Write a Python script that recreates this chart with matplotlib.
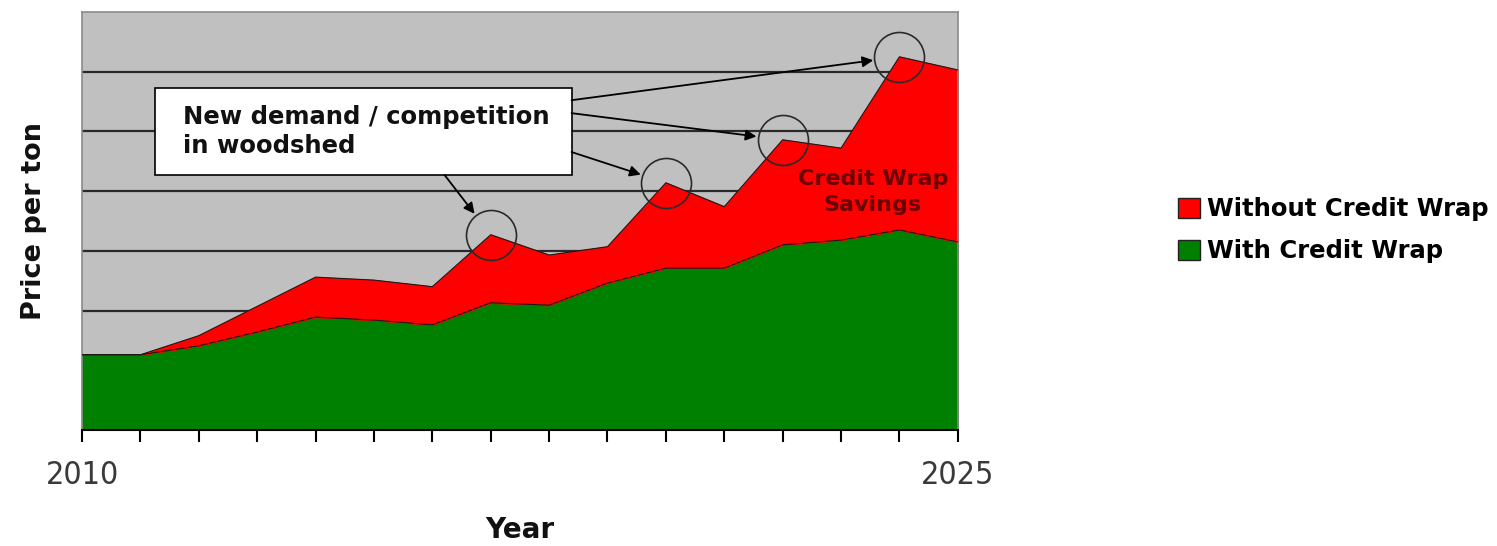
import matplotlib.pyplot as plt
from matplotlib.patches import Patch, Rectangle

# Chart values (price per ton)
years = [2010, 2011, 2012, 2013, 2014, 2015, 2016, 2017,
         2018, 2019, 2020, 2021, 2022, 2023, 2024, 2025]
with_wrap = [1.26, 1.26, 1.41, 1.64, 1.89, 1.84, 1.76, 2.13,
             2.09, 2.46, 2.71, 2.71, 3.10, 3.18, 3.35, 3.15]
without_wrap = [1.26, 1.26, 1.58, 2.07, 2.56, 2.51, 2.40, 3.27,
                2.93, 3.07, 4.14, 3.74, 4.86, 4.72, 6.25, 6.03]
tick_labels = ['2010'] + [''] * 14 + ['2025']
peak_years = [2017, 2020, 2022, 2024]
series_labels = ['Without Credit Wrap', 'With Credit Wrap']

fig = plt.figure(figsize=(14.97, 5.46), dpi=100)
ax = fig.add_axes([0.0548, 0.2125, 0.585, 0.7655])
ax.set_facecolor('#c0c0c0')

# areas
ax.fill_between(years, 0, with_wrap, color='#008000', zorder=2)
ax.fill_between(years, with_wrap, without_wrap, color='#ff0000', zorder=2)
ax.plot(years, with_wrap, color='#1a1a1a', lw=0.8, zorder=3)
ax.plot(years, without_wrap, color='#1a1a1a', lw=0.8, zorder=3)

ax.set_xlim(years[0], years[-1])
ax.set_ylim(0, 7)

# gridlines
ax.set_yticks([1, 2, 3, 4, 5, 6])
ax.yaxis.grid(True, color='#2a2a2a', lw=1.6, zorder=1)
ax.set_axisbelow(True)
ax.tick_params(axis='y', length=0, labelleft=False)

ax.set_xticks(years)
ax.set_xticklabels(tick_labels, family='DejaVu Sans', fontstretch='condensed',
                   fontsize=23, color='#3a3a3a')
ax.tick_params(axis='x', length=8.5, width=1.5, pad=13, color='black')

for s in ['top', 'right', 'left']:
    ax.spines[s].set_color('#8a8a8a')
    ax.spines[s].set_linewidth(1.2)
ax.spines['bottom'].set_color('black')
ax.spines['bottom'].set_linewidth(1.5)

ax.set_xlabel('Year', fontsize=20, fontweight='bold', color='#111111')
ax.xaxis.set_label_coords(0.5, -0.205)
ax.set_ylabel('Price per ton', fontsize=19.5, fontweight='bold', color='#111111')
ax.yaxis.set_label_coords(-0.04, 0.5)

# circles around the price jumps
peak_vals = [without_wrap[years.index(y)] for y in peak_years]
ax.plot(peak_years, peak_vals, 'o', ms=36, mfc='none', mec='#2a2a2a', mew=1.2,
        zorder=5, clip_on=False)

# callout box
ax.add_patch(Rectangle((0.0833, 0.61), 0.476, 0.208, transform=ax.transAxes,
                       facecolor='white', edgecolor='black', lw=1.2, zorder=6))
ax.text(0.1153, 0.714, 'New demand / competition\nin woodshed',
        transform=ax.transAxes, fontsize=17.5, fontweight='bold', color='#111111',
        ha='left', va='center', linespacing=1.3, zorder=7)

starts = [(0.559, 0.789), (0.559, 0.758), (0.559, 0.665), (0.414, 0.61)]
for (sx, sy), py, pv in zip(starts[::-1], peak_years, peak_vals):
    ax.annotate('', xy=(py, pv), xytext=(sx, sy), textcoords='axes fraction',
                arrowprops=dict(arrowstyle='-|>', color='black', lw=1.3,
                                shrinkA=0, shrinkB=19, mutation_scale=16),
                zorder=6)

ax.text(0.903, 0.569, 'Credit Wrap\nSavings', transform=ax.transAxes,
        fontsize=16, fontweight='bold', color='#6a0000', ha='center', va='center',
        linespacing=1.35, zorder=7)

# legend
handles = [Patch(facecolor='#ff0000', edgecolor='#222222'),
           Patch(facecolor='#008000', edgecolor='#222222')]
leg = fig.legend(handles, series_labels, loc='upper left',
                 bbox_to_anchor=(0.787, 0.639), frameon=False,
                 prop={'weight': 'bold', 'size': 17.5}, handlelength=0.9,
                 handleheight=0.9, handletextpad=0.3, labelspacing=0.75,
                 borderpad=0, borderaxespad=0)

fig.savefig('out.png', dpi=100)
